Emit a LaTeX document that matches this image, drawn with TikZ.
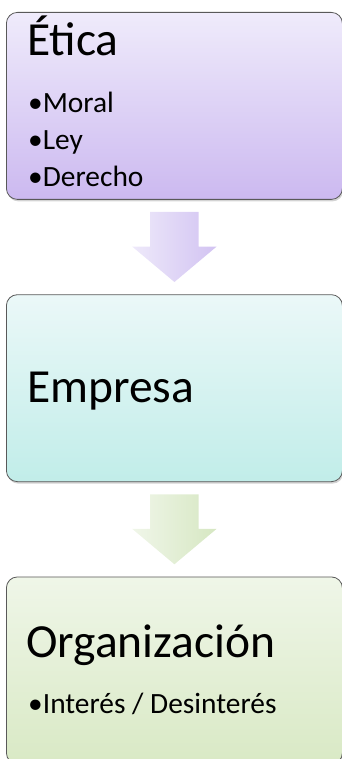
\documentclass[tikz,border=0pt]{standalone}
\usepackage{fontspec}
\setmainfont{Carlito}
\usepackage{xcolor}
\usepackage{tikz}
\usetikzlibrary{positioning,shapes.arrows,shadows}
\definecolor{eticatop}{HTML}{EFEBFB}
\definecolor{eticabot}{HTML}{CCB9F0}
\definecolor{empretop}{HTML}{EBF8F8}
\definecolor{emprebot}{HTML}{C1EDE9}
\definecolor{orgtop}{HTML}{EFF6E8}
\definecolor{orgbot}{HTML}{D9E9C5}
\definecolor{arrowatop}{HTML}{EEE9FA}
\definecolor{arrowabot}{HTML}{D2C3F2}
\definecolor{arrowbtop}{HTML}{F0F6E9}
\definecolor{arrowbbot}{HTML}{D6E7C2}

\begin{document}
\begin{tikzpicture}[x=1pt, y=1pt,
      stage/.style={draw=black!65, line width=0.8pt, rounded corners=11pt,
                    minimum width=336pt, minimum height=187pt, inner sep=0pt,
                    drop shadow={shadow xshift=1pt, shadow yshift=-2pt,
                                 opacity=0.35}},
      blockarrow/.style={single arrow, rotate=-90, draw=none, inner sep=0pt,
                    text width=0pt, text height=48pt, text depth=0pt,
                    minimum height=70pt, minimum width=84pt,
                    single arrow head extend=18pt, single arrow tip angle=100},
      title/.style={anchor=base west, inner sep=0pt,
                    font=\fontsize{47.5}{47.5}\selectfont},
      item/.style={anchor=base west, inner sep=0pt,
                   font=\fontsize{29.4}{29.4}\selectfont}
  ]
    \useasboundingbox (0,0) rectangle (341,-759);
    \node[stage, top color=eticatop, bottom color=eticabot, anchor=north west]
         (etica) at (6,-12) {};
    \node[blockarrow, left color=arrowatop, right color=arrowabot,
          below=12pt of etica, anchor=tail] (down1) {};
    \node[stage, top color=empretop, bottom color=emprebot,
          below=12pt of down1.tip] (empresa) {};
    \node[blockarrow, left color=arrowbtop, right color=arrowbbot,
          below=12pt of empresa, anchor=tail] (down2) {};
    \node[stage, top color=orgtop, bottom color=orgbot,
          below=12pt of down2.tip] (organiz) {};
    % texts
    \node[title] (eticatitle) at (27,-56) {Ética};
    \node[item] (moral)   at (28,-113) {•Moral};
    \node[item] (ley)     at (28,-150) {•Ley};
    \node[item] (derecho) at (28,-187) {•Derecho};
    \node[title] (empresatitle) at (27,-402) {Empresa};
    \node[title] (orgtitle) at (26,-657) {Organización};
    \node[item] (interes) at (28,-713) {•Interés / Desinterés};
  \end{tikzpicture}
\end{document}
